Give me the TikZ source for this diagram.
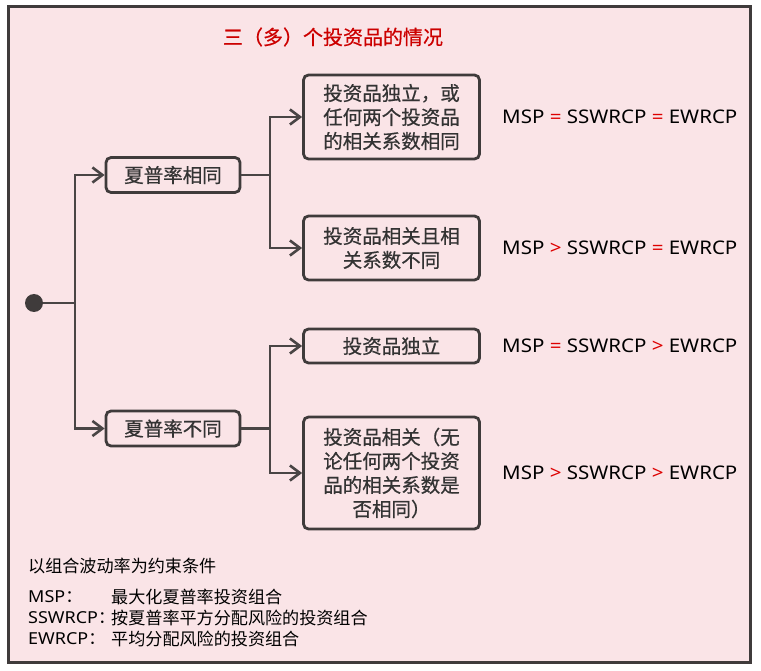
\documentclass[tikz,border=0pt]{standalone}
\usepackage{fontspec}
\setmainfont{Noto Sans CJK SC}
\newfontfamily\cjkbold{Noto Sans CJK SC}[FakeBold=0.6]
\newfontfamily\latin{Noto Sans}[FakeStretch=1.09]
\usetikzlibrary{arrows.meta}
\definecolor{bgpink}{HTML}{FAE4E7}
\definecolor{frame}{HTML}{3F3B3B}
\definecolor{ink}{HTML}{333333}
\definecolor{titlered}{HTML}{CC0000}
\definecolor{opred}{HTML}{DD0000}
\tikzset{
  box/.style={draw=frame, line width=2.8pt, rounded corners=5pt, fill=bgpink,
    text=ink, align=center, inner sep=0pt,
    font=\cjkbold\fontsize{19.5}{24}\selectfont},
  conn/.style={draw=frame!95, line width=2.6pt},
  arr/.style={conn, -{Straight Barb[length=10pt,width=15pt,line width=2.6pt]}},
  rel/.style={anchor=west, inner sep=0pt, text=black, font=\latin\fontsize{18.8}{22}\selectfont},
  foot/.style={anchor=west, inner sep=0pt, text=black, font=\fontsize{17.1}{20}\selectfont},
}
\newcommand{\rop}[1]{\textcolor{opred}{#1}}
\newcommand{\lat}[1]{{\latin\fontsize{16.5}{20}\selectfont #1}}
\begin{document}
\begin{tikzpicture}[x=1pt,y=-1pt]
\useasboundingbox (0,0) rectangle (761,671);
\fill[white] (0,0) rectangle (761,671);
\draw[frame, line width=3pt, fill=bgpink] (8,6.5) rectangle (750,662);

\node[text=titlered, font=\cjkbold\fontsize{20}{24}\selectfont, inner sep=0pt] (title) at (333,37) {三（多）个投资品的情况};

\node[circle, fill=frame, minimum size=18pt, inner sep=0pt] (start) at (34,303) {};
\coordinate (j1) at (75,303);

\node[box, minimum width=134pt, minimum height=35pt] (s1) at (173,175) {夏普率相同};
\node[box, minimum width=134pt, minimum height=35pt] (s2) at (173,428.5) {夏普率不同};

\node[box, minimum width=176pt, minimum height=84pt] (b1) at (391.5,117) {投资品独立，或\\任何两个投资品\\的相关系数相同};
\node[box, minimum width=176pt, minimum height=64pt] (b2) at (391.5,248) {投资品相关且相\\关系数不同};
\node[box, minimum width=176pt, minimum height=34pt] (b3) at (391.5,346) {投资品独立};
\node[box, minimum width=176pt, minimum height=112pt] (b4) at (391.5,473) {投资品相关（无\\论任何两个投资\\品的相关系数是\\否相同）};

\coordinate (j2) at (270,175);
\coordinate (j3) at (270,428.5);

\draw[conn] (start) -- (j1);
\draw[arr] (j1) |- (s1.west);
\draw[arr] (j1) |- (s2.west);
\draw[conn] (s1.east) -- (j2);
\draw[arr] (j2) |- (b1.west);
\draw[arr] (j2) |- (b2.west);
\draw[conn] (s2.east) -- (j3);
\draw[arr] (j3) |- (b3.west);
\draw[arr] (j3) |- (b4.west);

\node[rel] (r1) at (502,117) {MSP \rop{=} SSWRCP \rop{=} EWRCP};
\node[rel] (r2) at (502,248) {MSP \rop{>} SSWRCP \rop{=} EWRCP};
\node[rel] (r3) at (502,346) {MSP \rop{=} SSWRCP \rop{>} EWRCP};
\node[rel] (r4) at (502,473) {MSP \rop{>} SSWRCP \rop{>} EWRCP};

\node[foot] (f0) at (28,566) {以组合波动率为约束条件};
\node[foot] (f1) at (28,597) {\lat{MSP}：};
\node[foot] (f1d) at (111,597) {最大化夏普率投资组合};
\node[foot] (f2) at (28,618) {\lat{SSWRCP}：};
\node[foot] (f2d) at (111,618) {按夏普率平方分配风险的投资组合};
\node[foot] (f3) at (28,639) {\lat{EWRCP}：};
\node[foot] (f3d) at (111,639) {平均分配风险的投资组合};
\end{tikzpicture}
\end{document}
